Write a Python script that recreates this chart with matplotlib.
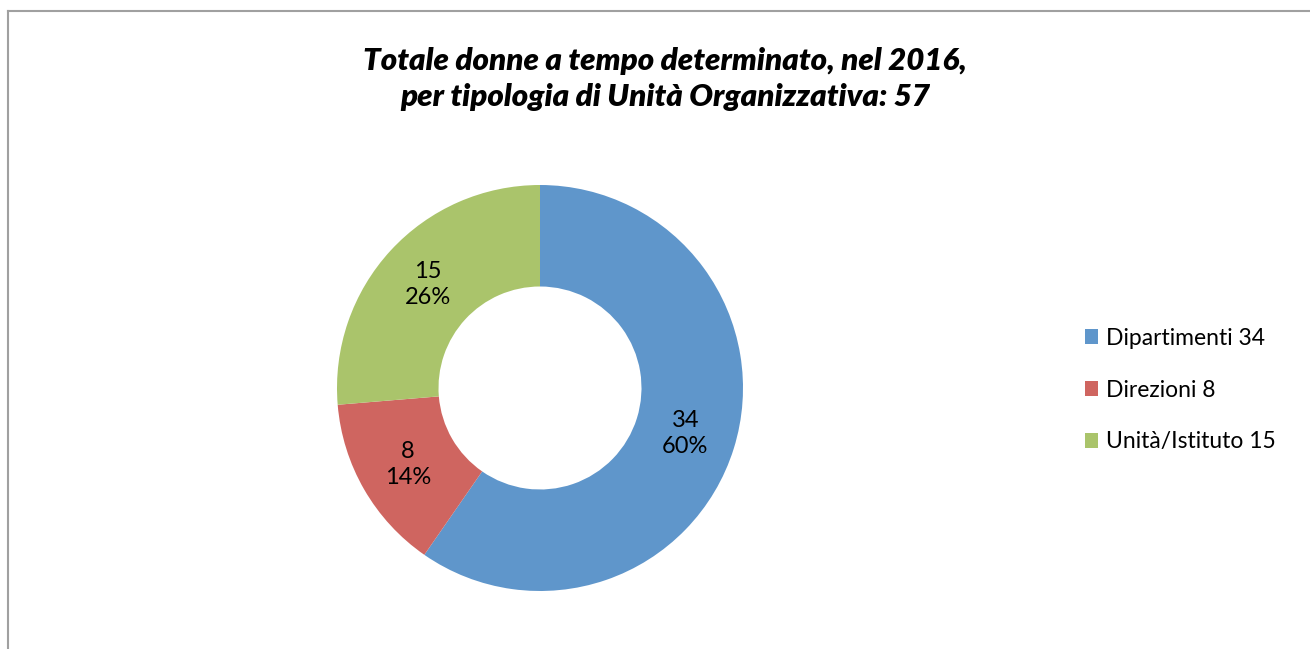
import matplotlib.pyplot as plt
from matplotlib.lines import Line2D

plt.rcParams["font.family"] = ["Lato", "DejaVu Sans"]

categories = ["Dipartimenti", "Direzioni", "Unità/Istituto"]
values = [34, 8, 15]
colors = ["#5F96CB", "#CF6560", "#AAC46B"]
title = "Totale donne a tempo determinato, nel 2016,\nper tipologia di Unità Organizzativa: 57"

W, H = 1310, 649
fig = plt.figure(figsize=(W / 100, H / 100), dpi=100)

cx, cy, r = 540, 388, 203
ax = fig.add_axes([(cx - r) / W, (H - cy - r) / H, 2 * r / W, 2 * r / H])

total = sum(values)


def fmt(pct):
    v = int(round(pct * total / 100))
    return f"{v}\n{pct:.0f}%"


wedges, _, autotexts = ax.pie(
    values,
    colors=colors,
    startangle=90,
    counterclock=False,
    autopct=fmt,
    pctdistance=0.75,
    wedgeprops=dict(width=0.5, edgecolor="white", linewidth=0),
    textprops=dict(fontsize=17, color="black", linespacing=1.3),
)
ax.set_xlim(-1, 1)
ax.set_ylim(-1, 1)
ax.set_aspect("equal")

fig.text(665 / W, 1 - 79 / H, title, ha="center", va="center",
         fontsize=22.5, fontweight="heavy", fontstyle="italic", linespacing=1.38)

labels = [f"{c} {v}" for c, v in zip(categories, values)]
fig.legend(wedges, labels, loc="center left",
           bbox_to_anchor=(1064 / W, 1 - 390 / H), frameon=False,
           fontsize=16.5, handlelength=0.6, handleheight=0.6,
           handletextpad=0.35, labelspacing=1.35)

# outer frame (top and left edges visible in the reference)
fig.add_artist(Line2D([8 / W, 1], [1 - 11 / H, 1 - 11 / H], color="#A0A0A0", lw=1.5))
fig.add_artist(Line2D([8 / W, 8 / W], [0, 1 - 11 / H], color="#A0A0A0", lw=1.5))

fig.savefig("out.png", dpi=100)
